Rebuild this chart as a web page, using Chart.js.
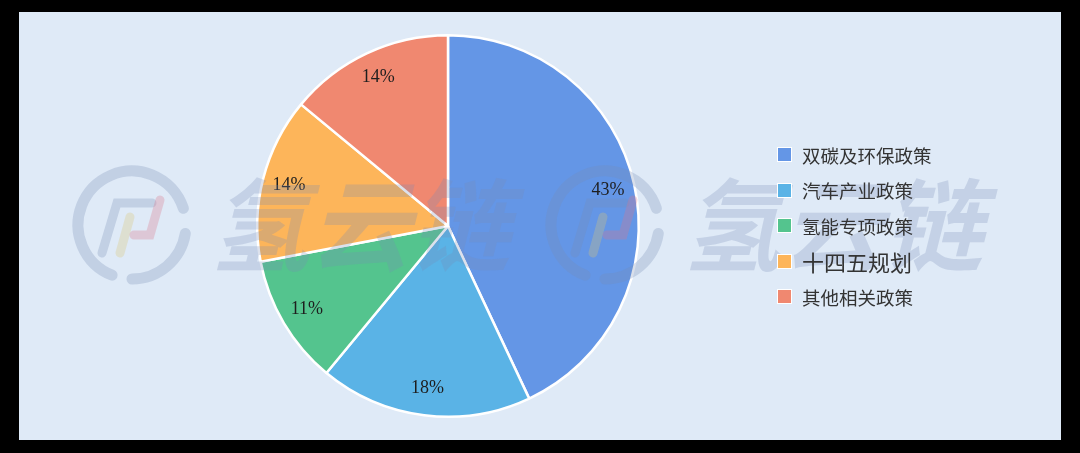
<!DOCTYPE html>
<html>
<head>
<meta charset="utf-8">
<script src="https://cdn.jsdelivr.net/npm/chart.js@4/dist/chart.umd.min.js"></script>
<style>
  html, body { margin: 0; padding: 0; background: #000; }
  body { width: 1080px; height: 453px; position: relative; overflow: hidden; }
  .panel {
    position: absolute; left: 19px; top: 12px; width: 1042px; height: 428px;
    background: #dfeaf7;
  }
  .panel canvas { position: absolute; left: 0; top: 0; }
  #legend {
    position: absolute; left: 758px; top: 125px; margin: 0; padding: 0; list-style: none;
    font-family: "Noto Sans CJK SC", sans-serif; color: #333;
  }
  #legend li { height: 35.5px; display: flex; align-items: center; font-size: 18px; }
  #legend li span.box {
    width: 15px; height: 15px; margin-right: 10px; border: 1px solid #fff; box-sizing: border-box;
  }
</style>
</head>
<body>
<div class="panel">
  <canvas id="pie" width="1042" height="428"></canvas>
  <ul id="legend"></ul>
</div>
<script>
/* ---- data ---- */
const categories = ['双碳及环保政策', '汽车产业政策', '氢能专项政策', '十四五规划', '其他相关政策'];
const shares = [43, 18, 11, 14, 14];

/* ---- styles ---- */
const sliceColors = ['#6496e6', '#5ab3e6', '#54c48e', '#fdb55a', '#f08870'];
const legendSizes = [18.5, 18.5, 18.5, 22, 18.5];

// percentage labels inside each slice
const sliceLabels = {
  id: 'sliceLabels',
  afterDatasetsDraw(chart) {
    const { ctx } = chart;
    const meta = chart.getDatasetMeta(0);
    ctx.save();
    ctx.font = '18px "Liberation Serif", serif';
    ctx.fillStyle = '#1e1e1e';
    ctx.textAlign = 'center';
    ctx.textBaseline = 'middle';
    meta.data.forEach((arc, i) => {
      const mid = (arc.startAngle + arc.endAngle) / 2;
      const r = arc.outerRadius * 0.86;
      ctx.fillText(shares[i] + '%', arc.x + Math.cos(mid) * r, arc.y + Math.sin(mid) * r);
    });
    ctx.restore();
  }
};

// faint site watermark drawn over everything
function drawMark(ctx, cx, cy) {
  ctx.save();
  ctx.lineWidth = 11;
  ctx.lineCap = 'round';
  ctx.strokeStyle = 'rgba(120,140,180,0.28)';
  ctx.beginPath();
  ctx.arc(cx, cy, 54, Math.PI * 0.62, Math.PI * 1.9);
  ctx.stroke();
  ctx.beginPath();
  ctx.arc(cx, cy, 54, Math.PI * 2.05, Math.PI * 2.5);
  ctx.stroke();
  ctx.lineWidth = 9;
  ctx.beginPath();
  ctx.moveTo(cx - 30, cy + 28); ctx.lineTo(cx - 15, cy - 22); ctx.lineTo(cx + 20, cy - 22);
  ctx.stroke();
  ctx.strokeStyle = 'rgba(220,200,120,0.3)';
  ctx.beginPath();
  ctx.moveTo(cx - 12, cy + 28); ctx.lineTo(cx - 2, cy - 8);
  ctx.stroke();
  ctx.strokeStyle = 'rgba(220,120,140,0.3)';
  ctx.beginPath();
  ctx.moveTo(cx + 2, cy + 10); ctx.lineTo(cx + 18, cy + 10); ctx.lineTo(cx + 28, cy - 25);
  ctx.stroke();
  ctx.font = 'italic bold 100px "Noto Sans CJK SC", sans-serif';
  ctx.fillStyle = 'rgba(120,140,180,0.26)';
  ctx.textBaseline = 'middle';
  ctx.fillText('氢云链', cx + 78, cy);
  ctx.restore();
}

const watermark = {
  id: 'watermark',
  afterDraw(chart) {
    drawMark(chart.ctx, 113, 213);
    drawMark(chart.ctx, 586, 213);
  }
};

const chart = new Chart(document.getElementById('pie'), {
  type: 'pie',
  data: {
    labels: categories,
    datasets: [{
      data: shares,
      backgroundColor: sliceColors,
      borderColor: '#ffffff',
      borderWidth: 2.5
    }]
  },
  options: {
    responsive: false,
    animation: false,
    layout: { padding: { left: 237, right: 421, top: 22, bottom: 22 } },
    plugins: { legend: { display: false }, tooltip: { enabled: false } }
  },
  plugins: [sliceLabels, watermark]
});

// html legend from the chart data
document.getElementById('legend').innerHTML = chart.data.labels.map((l, i) => `
  <li style="font-size:${legendSizes[i]}px"><span class="box" style="background:${sliceColors[i]}"></span>${l}</li>
`).join('');
</script>
</body>
</html>
